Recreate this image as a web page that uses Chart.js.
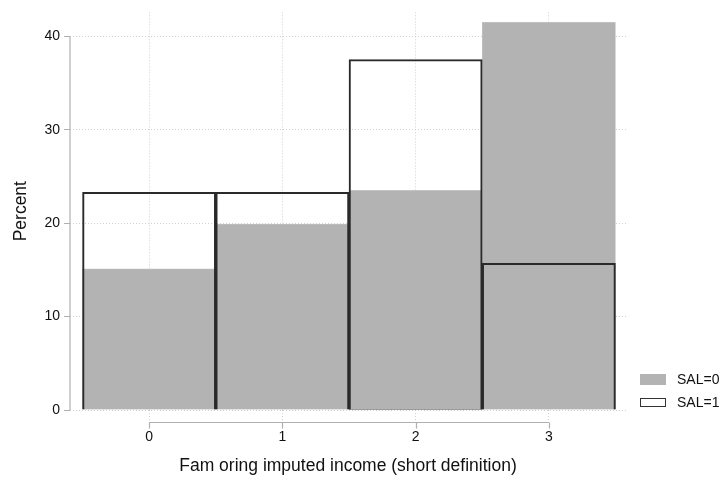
<!DOCTYPE html>
<html>
<head>
<meta charset="utf-8">
<script src="https://cdn.jsdelivr.net/npm/chart.js@4/dist/chart.umd.min.js"></script>
<style>
  html, body { margin: 0; padding: 0; background: #fff; }
  #wrap { width: 724px; height: 480px; }
</style>
</head>
<body>
<div id="wrap"><canvas id="histChart"></canvas></div>
<script>
// Bins of the income variable and percent per group
const bins = [0, 1, 2, 3];
const sal0 = [15.1, 19.9, 23.5, 41.5];
const sal1 = [23.3, 23.3, 37.5, 15.7];
const yTicks = [0, 10, 20, 30, 40];
const seriesNames = ['SAL=0', 'SAL=1'];

const FONT = 'Liberation Sans, Arial, Helvetica, sans-serif';

// Stata-like axis lines (only spanning the tick range) and legend
const stataBits = {
  id: 'stataBits',
  afterDraw(chart) {
    const ctx = chart.ctx;
    const x = chart.scales.x, y = chart.scales.y;
    const area = chart.chartArea;
    ctx.save();
    ctx.strokeStyle = '#b0b0b0';
    ctx.lineWidth = 1.2;
    // y axis line
    ctx.beginPath();
    ctx.moveTo(area.left, y.getPixelForValue(yTicks[yTicks.length - 1]));
    ctx.lineTo(area.left, y.getPixelForValue(0));
    ctx.stroke();
    // x axis line + ticks
    const ay = area.bottom + 12.5;
    ctx.beginPath();
    ctx.moveTo(x.getPixelForValue(bins[0]), ay);
    ctx.lineTo(x.getPixelForValue(bins[bins.length - 1]), ay);
    bins.forEach(b => {
      const px = Math.round(x.getPixelForValue(b)) + 0.5;
      ctx.moveTo(px, ay);
      ctx.lineTo(px, ay + 6);
    });
    ctx.stroke();

    // legend
    ctx.font = '14px ' + FONT;
    ctx.textBaseline = 'middle';
    ctx.fillStyle = '#b3b3b3';
    ctx.fillRect(640, 374, 26, 11);
    ctx.fillStyle = '#fff';
    ctx.fillRect(640.5, 398.5, 25, 8);
    ctx.strokeStyle = '#333';
    ctx.lineWidth = 1;
    ctx.strokeRect(640.5, 398.5, 25, 8);
    ctx.fillStyle = '#111';
    ctx.fillText(seriesNames[0], 677, 380);
    ctx.fillText(seriesNames[1], 677, 403);
    ctx.restore();
  }
};

function createHistogram() {
  const ctx = document.getElementById('histChart').getContext('2d');
  new Chart(ctx, {
    type: 'bar',
    data: {
      datasets: [{
        label: seriesNames[0],
        data: bins.map((b, i) => ({ x: b, y: sal0[i] })),
        backgroundColor: '#b3b3b3',
        borderColor: '#c4c4c4',
        borderWidth: 0.8,
        categoryPercentage: 1,
        barPercentage: 1,
        order: 2
      }, {
        label: seriesNames[1],
        data: bins.map((b, i) => ({ x: b, y: sal1[i] })),
        backgroundColor: 'rgba(0,0,0,0)',
        borderColor: '#2a2a2a',
        borderWidth: 1.4,
        categoryPercentage: 1,
        barPercentage: 1,
        order: 1
      }]
    },
    options: {
      responsive: false,
      animation: false,
      maintainAspectRatio: false,
      grouped: false,
      layout: { padding: { top: 7, right: 98, left: 0, bottom: 0 } },
      plugins: {
        legend: { display: false },
        tooltip: { enabled: false }
      },
      scales: {
        x: {
          type: 'linear',
          offset: false,
          min: -0.594,
          max: 3.579,
          afterBuildTicks: axis => { axis.ticks = bins.map(v => ({ value: v })); },
          afterFit: s => { s.height = 70; },
          border: { display: false, dash: [1, 2] },
          grid: {
            offset: false,
            color: '#d0d0d0',
            tickLength: 12,
            tickColor: '#d0d0d0',
            tickBorderDash: [1, 2]
          },
          ticks: {
            color: '#111',
            padding: 7,
            maxRotation: 0,
            font: { family: FONT, size: 14 }
          },
          title: {
            display: true,
            text: 'Fam oring imputed income (short definition)',
            color: '#111',
            font: { family: FONT, size: 17.5 },
            padding: { top: 0, bottom: 3 }
          }
        },
        y: {
          min: 0,
          max: 42.55,
          afterBuildTicks: axis => { axis.ticks = yTicks.map(v => ({ value: v })); },
          afterFit: s => { s.width = 70; },
          border: { display: false, dash: [1, 2] },
          grid: {
            color: '#d0d0d0',
            tickLength: 6,
            tickColor: '#b0b0b0',
            tickBorderDash: [0, 0]
          },
          ticks: {
            color: '#111',
            padding: 4,
            font: { family: FONT, size: 14 }
          },
          title: {
            display: true,
            text: 'Percent',
            color: '#111',
            font: { family: FONT, size: 17.5 },
            padding: { top: 11, bottom: 0 }
          }
        }
      }
    },
    plugins: [stataBits]
  });
}

window.onload = function() {
  const c = document.getElementById('histChart');
  c.width = 724;
  c.height = 480;
  createHistogram();
};
</script>
</body>
</html>
